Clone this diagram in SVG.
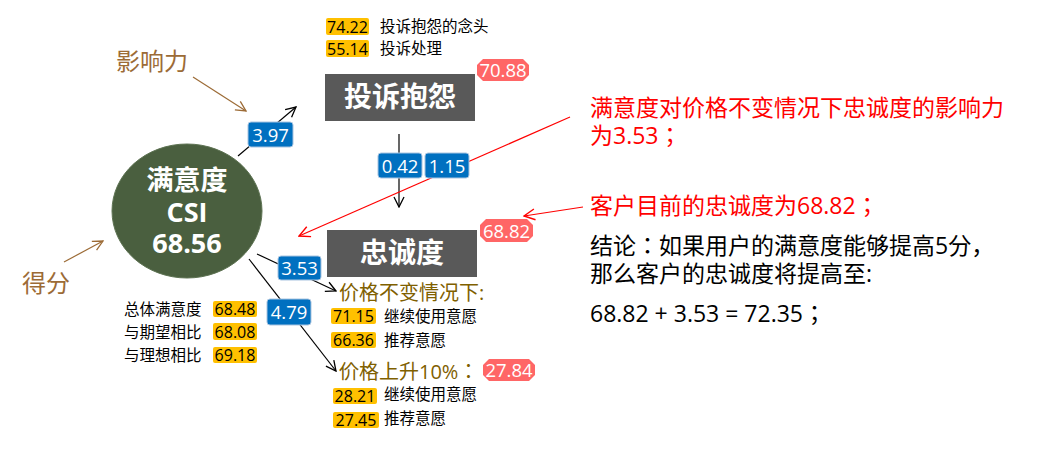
<svg xmlns="http://www.w3.org/2000/svg" width="1046" height="464" viewBox="0 0 1046 464">
<defs>
<style>
text{font-family:"Open Sans","Noto Sans CJK SC",sans-serif;}
.jp{font-family:"Open Sans","Noto Sans CJK JP",sans-serif;}
.box{fill:#595959;}
.boxt{fill:#fff;font-size:28px;font-weight:bold;text-anchor:middle;}
.ct{fill:#fff;font-size:27px;font-weight:bold;text-anchor:middle;}
.badge{fill:#FF6666;}
.badget{fill:#fff;font-size:18.5px;text-anchor:middle;}
.lbl{fill:#0070C0;stroke:#A9C4E0;stroke-width:1;}
.lblt{fill:#fff;font-size:18.5px;text-anchor:middle;}
.yb{fill:#FFC000;}
.ybt{fill:#000;font-size:16px;text-anchor:middle;}
.sm{fill:#000;font-size:15.5px;}
.brown{fill:#9C6B36;font-size:24px;}
.olive{fill:#7F6000;font-size:20px;}
.red{fill:#FF0000;font-size:23px;}
.blk{fill:#000;font-size:23px;}
.con{stroke:#000;stroke-width:1.2;fill:none;}
.conb{stroke:#9C6B36;stroke-width:1.2;fill:none;}
.conr{stroke:#FF0000;stroke-width:1.2;fill:none;}
</style>
<marker id="ak" viewBox="0 0 12 12" refX="11" refY="6" markerWidth="12" markerHeight="12" markerUnits="userSpaceOnUse" orient="auto"><path d="M1,1 L11,6 L1,11" fill="none" stroke="#000" stroke-width="1.3"/></marker>
<marker id="ab" viewBox="0 0 12 12" refX="11" refY="6" markerWidth="12" markerHeight="12" markerUnits="userSpaceOnUse" orient="auto"><path d="M1,1 L11,6 L1,11" fill="none" stroke="#9C6B36" stroke-width="1.3"/></marker>
<marker id="ar" viewBox="0 0 12 12" refX="11" refY="6" markerWidth="13" markerHeight="13" markerUnits="userSpaceOnUse" orient="auto"><path d="M1,1 L11,6 L1,11" fill="none" stroke="#FF0000" stroke-width="1.3"/></marker>
</defs>
<rect width="1046" height="464" fill="#fff"/>

<g id="connectors">
<line class="con" x1="238" y1="156" x2="296" y2="107" marker-end="url(#ak)"/>
<line class="con" x1="399" y1="134" x2="399" y2="207" marker-end="url(#ak)"/>
<line class="con" x1="257" y1="254" x2="336" y2="291" marker-end="url(#ak)"/>
<line class="con" x1="249" y1="259" x2="336" y2="371" marker-end="url(#ak)"/>
<line class="conb" x1="193" y1="77" x2="246" y2="111" marker-end="url(#ab)"/>
<line class="conb" x1="64" y1="262" x2="103" y2="241" marker-end="url(#ab)"/>
<line class="conr" x1="570" y1="117" x2="299" y2="236" marker-end="url(#ar)"/>
<line class="conr" x1="583" y1="207" x2="524" y2="216" marker-end="url(#ar)"/>
</g>

<g id="node-csi">
<ellipse cx="187" cy="211" rx="75" ry="67" fill="#4A5F3F" stroke="#5E7353" stroke-width="1"/>
<text class="ct" x="187" y="190">满意度</text>
<text class="ct" x="187" y="222">CSI</text>
<text class="ct" x="187" y="253">68.56</text>
</g>

<g id="node-complaint">
<rect class="box" x="325" y="74" width="150" height="47"/>
<text class="boxt" x="400" y="107">投诉抱怨</text>
<path class="badge" d="M483,59 L523,59 L529,65 L529,75 L523,81 L483,81 L477,75 L477,65 Z"/>
<text class="badget" x="503" y="77">70.88</text>
</g>

<g id="node-complaint-items">
<rect class="yb" x="326" y="18" width="43" height="17" rx="2"/>
<text class="ybt" x="347.5" y="32.5">74.22</text>
<text class="sm" x="380" y="32">投诉抱怨的念头</text>
<rect class="yb" x="326" y="40" width="43" height="17" rx="2"/>
<text class="ybt" x="347.5" y="54.5">55.14</text>
<text class="sm" x="380" y="54">投诉处理</text>
</g>

<g id="node-loyalty">
<rect class="box" x="327" y="230" width="150" height="47"/>
<text class="boxt" x="402" y="263">忠诚度</text>
<path class="badge" d="M486,219 L527,219 L533,225 L533,236 L527,242 L486,242 L480,236 L480,225 Z"/>
<text class="badget" x="506.5" y="237.5">68.82</text>
</g>

<g id="node-csi-items">
<text class="sm" x="124" y="315">总体满意度</text>
<rect class="yb" x="213" y="301" width="44" height="16" rx="2"/>
<text class="ybt" x="235" y="315">68.48</text>
<text class="sm" x="124" y="338">与期望相比</text>
<rect class="yb" x="213" y="323" width="44" height="17" rx="2"/>
<text class="ybt" x="235" y="338">68.08</text>
<text class="sm" x="124" y="361">与理想相比</text>
<rect class="yb" x="213" y="347" width="44" height="16" rx="2"/>
<text class="ybt" x="235" y="361">69.18</text>
</g>

<g id="node-price-same">
<text class="olive" x="339" y="300">价格不变情况下:</text>
<rect class="yb" x="331" y="308" width="45" height="16" rx="2"/>
<text class="ybt" x="353.5" y="322">71.15</text>
<text class="sm" x="384" y="322">继续使用意愿</text>
<rect class="yb" x="331" y="332" width="45" height="16" rx="2"/>
<text class="ybt" x="353.5" y="346">66.36</text>
<text class="sm" x="384" y="346">推荐意愿</text>
</g>

<g id="node-price-up">
<text class="olive jp" x="339" y="379">价格上升10%：</text>
<path class="badge" d="M489,359 L529,359 L535,365 L535,375 L529,381 L489,381 L483,375 L483,365 Z"/>
<text class="badget" x="509" y="377">27.84</text>
<rect class="yb" x="333" y="388" width="44" height="16" rx="2"/>
<text class="ybt" x="355" y="402">28.21</text>
<text class="sm" x="384" y="400">继续使用意愿</text>
<rect class="yb" x="333" y="412" width="46" height="16" rx="2"/>
<text class="ybt" x="356" y="426">27.45</text>
<text class="sm" x="384" y="424">推荐意愿</text>
</g>

<g id="labels">
<rect class="lbl" x="248" y="122" width="45" height="25" rx="3"/>
<text class="lblt" x="270.5" y="141.5">3.97</text>
<rect class="lbl" x="378" y="153" width="44" height="25" rx="3"/>
<text class="lblt" x="400" y="172.5">0.42</text>
<rect class="lbl" x="425" y="153" width="44" height="25" rx="3"/>
<text class="lblt" x="447" y="172.5">1.15</text>
<rect class="lbl" x="278" y="256" width="43" height="24" rx="3"/>
<text class="lblt" x="299.5" y="274.5">3.53</text>
<rect class="lbl" x="267" y="299" width="44" height="26" rx="3"/>
<text class="lblt" x="289" y="318.5">4.79</text>
</g>

<g id="annotations">
<text class="brown" x="116" y="70">影响力</text>
<text class="brown" x="22" y="292">得分</text>
<text class="red" x="590" y="116">满意度对价格不变情况下忠诚度的影响力</text>
<text class="red jp" x="590" y="144">为3.53；</text>
<text class="red jp" x="590" y="214">客户目前的忠诚度为68.82；</text>
<text class="blk jp" x="590" y="254">结论：如果用户的满意度能够提高5分，</text>
<text class="blk" x="590" y="282">那么客户的忠诚度将提高至:</text>
<text class="blk jp" x="590" y="322">68.82 + 3.53 = 72.35；</text>
</g>
</svg>
